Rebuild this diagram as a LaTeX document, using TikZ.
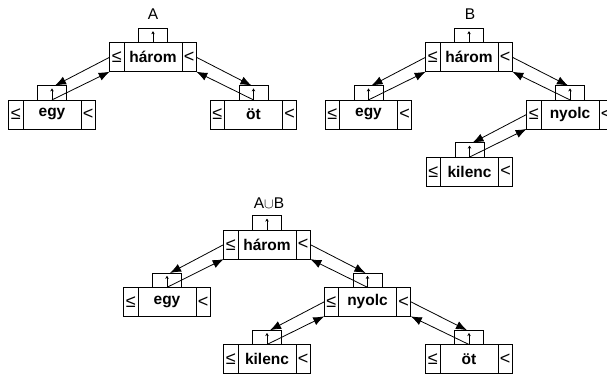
\documentclass[tikz,border=0pt]{standalone}
\usepackage{fontspec}
\setmainfont{Liberation Sans}
\usetikzlibrary{arrows.meta}

\tikzset{
  cell/.style={draw, line width=0.75pt, fill=white, inner sep=0pt, outer sep=0pt, minimum height=29pt},
  key/.style={cell, minimum width=58pt, font=\fontsize{15.5}{18}\selectfont\bfseries},
  side/.style={cell, minimum width=14.3pt, font=\fontsize{18}{20}\selectfont},
  parent/.style={cell, minimum width=29pt, minimum height=14.3pt},
  ptr/.style={-{Latex[length=11pt,width=8.5pt]}, line width=0.8pt},
  title/.style={font=\fontsize{15.5}{18}\selectfont}
}

\begin{document}
\begin{tikzpicture}[x=1pt, y=-1pt]
  \useasboundingbox (0,0) rectangle (607,376);

  % list elements: name/x/y/key
  \foreach \n/\x/\y/\k in {a-harom/153/57.2/három, a-egy/52/114.4/egy, a-ot/253.5/114.4/öt,
      b-harom/469/57.2/három, b-egy/368.5/114.4/egy, b-nyolc/570/114.4/nyolc, b-kilenc/469.5/171.6/kilenc,
      u-harom/267/244.6/három, u-egy/167/301.8/egy, u-nyolc/367.5/301.8/nyolc,
      u-kilenc/267/359/kilenc, u-ot/469/359/öt} {
    \node[key] (\n) at (\x,\y) {\k};
    \node[side, anchor=east] (\n-l) at (\n.west) {≤};
    \node[side, anchor=west] (\n-r) at (\n.east) {<};
    \node[parent, anchor=south] (\n-p) at (\n.north) {};
    \draw[-{Stealth[length=3pt,width=3.5pt]}, line width=0.45pt] (\n-p.south) -- ++(0,-11.5);
  }

  % left children
  \foreach \p/\c in {a-harom/a-egy, b-harom/b-egy, b-nyolc/b-kilenc, u-harom/u-egy, u-nyolc/u-kilenc} {
    \draw[ptr] (\p-l.west) -- ([xshift=3pt]\c-p.north);
    \draw[ptr] (\c-p.south) -- (\p-l.south west);
  }
  % right children
  \foreach \p/\c in {a-harom/a-ot, b-harom/b-nyolc, u-harom/u-nyolc, u-nyolc/u-ot} {
    \draw[ptr] (\p-r.east) -- ([xshift=-2pt]\c-p.north);
    \draw[ptr] (\c-p.south) -- (\p-r.south east);
  }

  \node[title] (a-title) at (153,14) {A};
  \node[title] (b-title) at (470,14) {B};
  \node[title] (u-title) at (269,203) {A$\cup$B};
\end{tikzpicture}
\end{document}
